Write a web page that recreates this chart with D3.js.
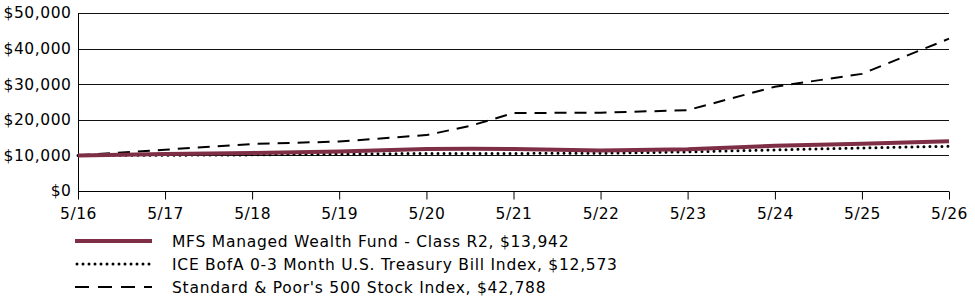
<!DOCTYPE html>
<html>
<head>
<meta charset="utf-8">
<script src="https://cdn.jsdelivr.net/npm/d3@7"></script>
<style>
  body { margin: 0; background: #fff; }
  text { font-family: "DejaVu Sans", Verdana, sans-serif; }
</style>
</head>
<body>
<div id="chart"></div>
<script>
// growth of $10,000
const dates     = ['2016-05', '2017-05', '2018-05', '2019-05', '2020-05', '2020-11', '2021-05', '2022-05', '2023-05', '2024-05', '2025-05', '2026-05'];
const fund      = [10000, 10400, 10700, 11100, 11800, 11850, 11800, 11400, 11700, 12700, 13300, 13942];
const treasury  = [10000, 10050, 10150, 10400, 10550, 10560, 10560, 10600, 11000, 11550, 12100, 12573];
const sp500     = [10000, 11600, 13200, 13900, 15700, 18300, 21900, 22000, 22700, 29300, 32900, 42788];
const yTicks    = [0, 10000, 20000, 30000, 40000, 50000];
const seriesNames = [
  'MFS Managed Wealth Fund - Class R2, $13,942',
  'ICE BofA 0-3 Month U.S. Treasury Bill Index, $12,573',
  "Standard & Poor's 500 Stock Index, $42,788"
];

const W = 975, H = 304;
const margin = { top: 13, right: 26, bottom: 113, left: 78 };
const parse = d3.timeParse('%Y-%m');
const x = d3.scaleTime()
  .domain([parse('2016-05'), parse('2026-05')])
  .range([margin.left, W - margin.right]);
const y = d3.scaleLinear().domain([0, 50000]).range([H - margin.bottom, margin.top]);

const svg = d3.select('#chart').append('svg').attr('width', W).attr('height', H);

// gridlines
svg.append('g').selectAll('line').data(yTicks.slice(1)).join('line')
  .attr('x1', margin.left).attr('x2', W - margin.right)
  .attr('y1', d => Math.round(y(d)) + 0.5).attr('y2', d => Math.round(y(d)) + 0.5)
  .attr('stroke', '#111').attr('stroke-width', 1);

// y axis
const yAxis = svg.append('g')
  .attr('transform', `translate(${margin.left + 0.5},0)`)
  .call(d3.axisLeft(y).tickValues(yTicks).tickSize(0).tickPadding(7)
    .tickFormat(d => '$' + d3.format(',')(d)));
yAxis.select('.domain').attr('stroke', '#000').attr('d', `M0,${y(0) + 8}V${y(50000)}`);
yAxis.selectAll('text').style('font-size', '15.5px').style('letter-spacing', '0.55px').attr('fill', '#000');

// x axis
const xTickDates = d3.range(2016, 2027).map(yr => parse(yr + '-05'));
const xAxis = svg.append('g')
  .attr('transform', `translate(0,${Math.round(y(0)) + 0.5})`)
  .call(d3.axisBottom(x).tickValues(xTickDates).tickSize(8).tickPadding(8)
    .tickFormat(d3.timeFormat('%-m/%y')));
xAxis.select('.domain').attr('stroke', '#000').attr('d', `M${margin.left},0H${W - margin.right}`);
xAxis.selectAll('.tick line').attr('stroke', '#000');
xAxis.selectAll('text').style('font-size', '15.5px').style('letter-spacing', '0.5px').attr('fill', '#000');

const line = d3.line().x((d, i) => x(parse(dates[i]))).y(d => y(d));

const styles = [
  { data: fund, stroke: '#7f2f45', width: 4, dash: null, cap: 'butt' },
  { data: treasury, stroke: '#000', width: 3, dash: '0,6', cap: 'round' },
  { data: sp500, stroke: '#000', width: 2, dash: '12,8', cap: 'butt' }
];

// draw treasury & s&p first, fund on top
[2, 1, 0].forEach(i => {
  const s = styles[i];
  svg.append('path').datum(s.data)
    .attr('d', line)
    .attr('fill', 'none')
    .attr('stroke', s.stroke)
    .attr('stroke-width', s.width)
    .attr('stroke-linecap', s.cap)
    .attr('stroke-dasharray', s.dash);
});

// legend
const legend = svg.append('g');
seriesNames.forEach((name, i) => {
  const ly = 241 + i * 23;
  const s = styles[i];
  legend.append('line')
    .attr('x1', i === 1 ? 77 : 75).attr('x2', 152)
    .attr('y1', ly).attr('y2', ly)
    .attr('stroke', s.stroke)
    .attr('stroke-width', s.width)
    .attr('stroke-linecap', s.cap)
    .attr('stroke-dasharray', i === 2 ? '14,9' : s.dash);
  legend.append('text')
    .attr('x', 172).attr('y', ly + 6)
    .style('font-size', '15.5px').style('letter-spacing', '0.75px').attr('fill', '#000')
    .text(name);
});
</script>
</body>
</html>
